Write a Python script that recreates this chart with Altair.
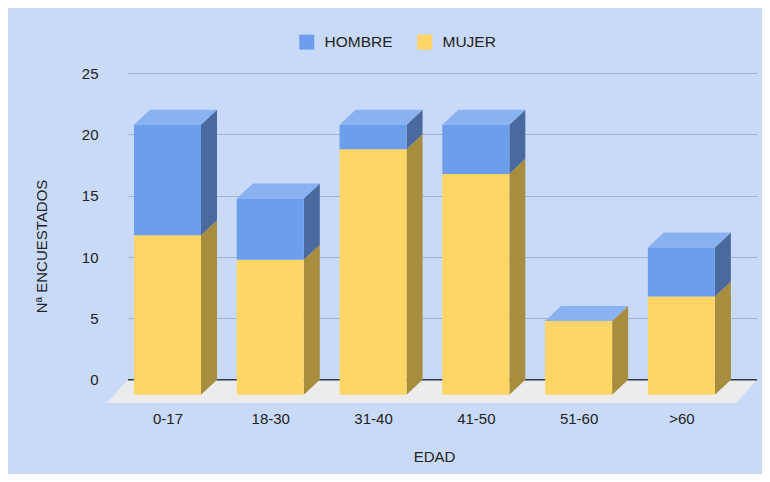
import json
import pandas as pd
import altair as alt

# ---- data ----
categorias = ["0-17", "18-30", "31-40", "41-50", "51-60", ">60"]
mujer = [13, 11, 20, 18, 6, 8]
hombre = [9, 5, 2, 4, 0, 4]
series = ["HOMBRE", "MUJER"]
y_ticks = [0, 5, 10, 15, 20, 25]

# ---- style constants (3D look) ----
W = 0.652      # bar width (category units)
DX = 0.1557    # depth offset along x (category units)
DY = 1.223     # depth offset along y (value units)
XL, XR = -0.54, 5.58
YF = -1.9
FD = 0.205

C_BLUE, C_BLUE_TOP, C_BLUE_SIDE = "#6d9eeb", "#8ab1f0", "#4a6a9e"
C_YEL, C_YEL_SIDE = "#ffd666", "#a88d3f"
BG = "#c9daf8"

front, faces = [], []
for i, c in enumerate(categorias):
    m, h = mujer[i], hombre[i]
    segs = [("MUJER", 0, m, "ys"), ("HOMBRE", m, m + h, "bs")]
    for serie, lo, hi, part in segs:
        front.append(dict(serie=serie, x=i - W / 2 - DX, x2=i + W / 2 - DX,
                          y=lo - DY, y2=hi - DY))
        fid = f"{c}-{part}"
        faces.append(dict(face=fid, part=part, x=i + W / 2 - DX, y=lo - DY, y2=hi - DY))
        faces.append(dict(face=fid, part=part, x=i + W / 2, y=lo, y2=hi))
    T = m + h
    xfl = i - W / 2 - DX
    fid = f"{c}-top"
    for xx, a, b in [(xfl, T - DY, T - DY), (xfl + DX, T - DY, T),
                     (xfl + W, T - DY, T), (xfl + W + DX, T, T)]:
        faces.append(dict(face=fid, part="bt", x=xx, y=a, y2=b))

floor = pd.DataFrame([
    dict(x=XL - FD, y=YF, y2=YF),
    dict(x=XL, y=YF, y2=0),
    dict(x=XR - FD, y=YF, y2=0),
    dict(x=XR, y=0, y2=0),
])
zero = pd.DataFrame([dict(x=XL, x2=XR, y=0)])
front = pd.DataFrame(front)
faces = pd.DataFrame(faces)

label_expr = json.dumps(categorias) + f"[round(datum.value + {DX})]"
xs = alt.Scale(domain=[XL, XR], nice=False, zero=False)
ys = alt.Scale(domain=[YF, 25], nice=False, zero=False)
xaxis = alt.Axis(values=[i - DX for i in range(len(categorias))], labelExpr=label_expr,
                 grid=False, ticks=False, domain=False, labelPadding=8,
                 titleX=306, titleY=46, titleBaseline="top")
yaxis = alt.Axis(values=y_ticks, grid=True, gridColor="#a3b3cc", gridWidth=1.2,
                 ticks=False, domain=False, labelPadding=30,
                 titleX=-87, titleY=173, titleBaseline="middle")
X = alt.X("x:Q", scale=xs, axis=xaxis, title="EDAD")
Y = alt.Y("y:Q", scale=ys, axis=yaxis, title="Nª ENCUESTADOS", stack=None)

floor_l = alt.Chart(floor).mark_area(color="#ececec", orient="vertical").encode(
    x=X, y=Y, y2="y2:Q")
zero_l = alt.Chart(zero).mark_rule(color="#2b384c", strokeWidth=1.6).encode(
    x=X, x2="x2:Q", y=Y)
faces_l = alt.Chart(faces).mark_area(orient="vertical").encode(
    x=X, y=Y, y2="y2:Q", detail="face:N",
    fill=alt.Fill("part:N", scale=alt.Scale(domain=["ys", "bs", "bt"],
                                            range=[C_YEL_SIDE, C_BLUE_SIDE, C_BLUE_TOP]),
                  legend=None))
front_l = alt.Chart(front).mark_rect().encode(
    x=X, x2="x2:Q", y=Y, y2="y2:Q",
    color=alt.Color("serie:N", scale=alt.Scale(domain=series, range=[C_BLUE, C_YEL]),
                    legend=alt.Legend(title=None, orient="none", legendX=171, legendY=-39,
                                      direction="horizontal", symbolType="square",
                                      symbolSize=225, symbolStrokeWidth=0,
                                      labelFontSize=15.5, labelColor="#222222",
                                      labelOffset=10, columnPadding=24)))

chart = alt.layer(floor_l, zero_l, faces_l, front_l).properties(
    width=629, height=330,
    autosize=alt.AutoSizeParams(type="none"),
    padding={"left": 120, "top": 65, "right": 5, "bottom": 71},
).configure(background=BG, font="Liberation Sans").configure_view(
    stroke=None
).configure_axis(
    labelFontSize=15, labelColor="#222222", titleFontSize=15, titleColor="#222222",
    titleFontWeight="normal"
)

chart.save("out.html", embed_options={"renderer": "svg", "actions": False})
